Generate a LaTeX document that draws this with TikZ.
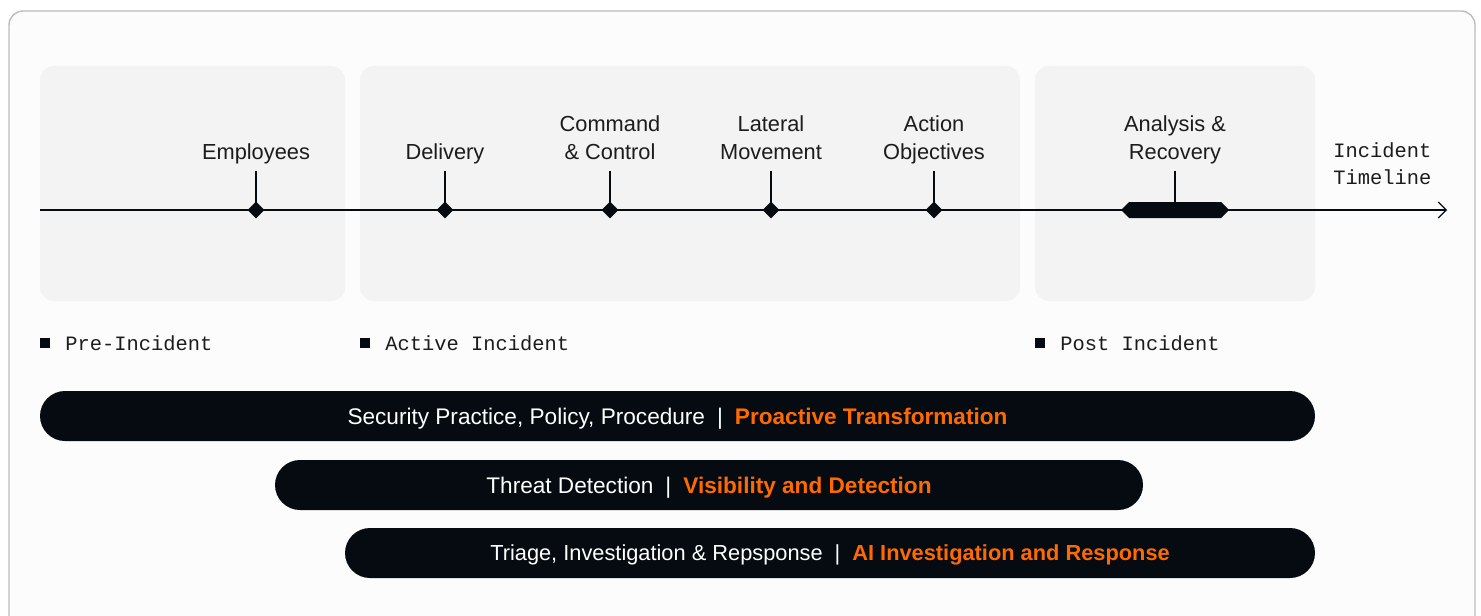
\documentclass[tikz,border=0pt]{standalone}
\usepackage{fontspec}
\setmainfont{Liberation Sans}
\newfontfamily\monof{Liberation Mono}
\usetikzlibrary{arrows.meta,shapes.geometric}
\definecolor{ink}{HTML}{050B10}
\definecolor{txt}{HTML}{1C1C1C}
\definecolor{orng}{HTML}{FF6A00}
\definecolor{panel}{HTML}{F3F3F3}
\definecolor{frame}{HTML}{FCFCFC}
\definecolor{frameline}{HTML}{BDBDBD}
\tikzset{
  panelbox/.style={fill=panel, rounded corners=7pt},
  evlabel/.style={font=\fontsize{10.9}{14}\selectfont, text=txt, align=center, anchor=south, inner sep=0pt, execute at end node=\strut},
  marker/.style={diamond, fill=ink, inner sep=0pt, minimum width=8.5pt, minimum height=8.5pt},
  tickline/.style={draw=ink, line width=0.6pt},
  legsq/.style={fill=ink, inner sep=0pt, minimum size=5pt},
  legtext/.style={font=\monof\fontsize{10.2}{13.5}\selectfont, text=txt, anchor=west, inner sep=0pt},
  bar/.style={fill=ink, rounded corners=12.5pt, minimum height=25pt, text=white, font=\fontsize{11.3}{13}\selectfont, inner sep=0pt, text depth=0pt}
}
\newcommand{\barsep}{\hspace{6pt}|\hspace{6pt}}
\begin{document}
\begin{tikzpicture}[x=0.5pt,y=-0.5pt]
\clip (0,0) rectangle (1481,615);
\fill[white] (0,0) rectangle (1481,615);
% outer frame
\draw[fill=frame, draw=frameline, line width=0.7pt, rounded corners=7pt] (9,11) rectangle (1475,630);
% panels
\fill[panelbox] (40,66) rectangle (345,301);
\fill[panelbox] (360,66) rectangle (1020,301);
\fill[panelbox] (1035,66) rectangle (1315,301);
% timeline
\coordinate (tstart) at (40,210);
\coordinate (tend) at (1447,210);
\draw[tickline, -{Straight Barb[length=4pt,width=8pt,line width=0.6pt]}] (tstart) -- (tend);
% markers
\node[marker] (d1) at (256,210) {};
\node[marker] (d2) at (445,210) {};
\node[marker] (d3) at (610,210) {};
\node[marker] (d4) at (771,210) {};
\node[marker] (d5) at (934,210) {};
\foreach \d in {d1,d2,d3,d4,d5} {\draw[tickline] (\d.center) -- ++(0,-39);}
% analysis bar marker
\fill[ink] (1121,210) -- (1129,202) -- (1221,202) -- (1229,210) -- (1221,218) -- (1129,218) -- cycle;
\coordinate (d6) at (1175,210);
\draw[tickline] (d6) -- ++(0,-39);
% labels
\node[evlabel] (l1) at (256,168) {Employees};
\node[evlabel] (l2) at (445,168) {Delivery};
\node[evlabel] (l3) at (610,168) {Command\\\& Control};
\node[evlabel] (l4) at (771,168) {Lateral\\Movement};
\node[evlabel] (l5) at (934,168) {Action\\Objectives};
\node[evlabel] (l6) at (1175,168) {Analysis \&\\Recovery};
\node[font=\monof\fontsize{10.2}{13.5}\selectfont, text=txt, align=left, anchor=west, inner sep=0pt] (tl) at (1333,164) {Incident\\Timeline};
% legend
\node[legsq] (s1) at (45,343) {};
\node[legtext] (p1) at (65,343) {Pre-Incident};
\node[legsq] (s2) at (365,343) {};
\node[legtext] (p2) at (385,343) {Active Incident};
\node[legsq] (s3) at (1040,343) {};
\node[legtext] (p3) at (1060,343) {Post Incident};
% bars
\node[bar, minimum width=637.5pt] (b1) at (677.5,416) {Security Practice, Policy, Procedure\barsep\textcolor{orng}{\bfseries Proactive Transformation}};
\node[bar, minimum width=434pt] (b2) at (709,485) {Threat Detection\barsep\textcolor{orng}{\bfseries Visibility and Detection}};
\node[bar, minimum width=485pt, font=\fontsize{10.9}{13}\selectfont] (b3) at (830,553) {Triage, Investigation \& Repsponse\barsep\textcolor{orng}{\bfseries AI Investigation and Response}};
\end{tikzpicture}
\end{document}
